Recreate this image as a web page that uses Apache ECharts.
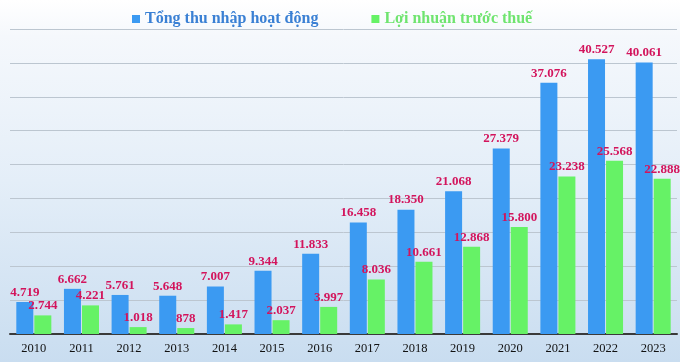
<!DOCTYPE html>
<html><head><meta charset="utf-8">
<script src="https://cdn.jsdelivr.net/npm/echarts@6/dist/echarts.min.js"></script>
<style>
html,body{margin:0;padding:0;}
#c{width:680px;height:362px;background:linear-gradient(to bottom,#ffffff 0%,#f5f8fc 10%,#e4eef8 50%,#c9ddf0 100%);}
</style></head>
<body><div id="c"></div>
<script>
const categories = ['2010','2011','2012','2013','2014','2015','2016','2017','2018','2019','2020','2021','2022','2023'];
const totalIncome = [4719, 6662, 5761, 5648, 7007, 9344, 11833, 16458, 18350, 21068, 27379, 37076, 40527, 40061];
const profitBeforeTax = [2744, 4221, 1018, 878, 1417, 2037, 3997, 8036, 10661, 12868, 15800, 23238, 25568, 22888];
const seriesNames = ['Tổng thu nhập hoạt động', 'Lợi nhuận trước thuế'];

function fmt(v){ return String(v).replace(/\B(?=(\d{3})+(?!\d))/g, '.'); }
const labelCfg = {
  show: true, position: 'top', distance: 3,
  color: '#d3145c', fontFamily: 'Liberation Serif', fontWeight: 'bold', fontSize: 13,
  formatter: p => fmt(p.value)
};
const chart = echarts.init(document.getElementById('c'));
chart.setOption({
  animation: false,
  legend: {
    top: 6, left: 127, itemWidth: 8, itemHeight: 8, itemGap: 53, icon: 'rect',
    textStyle: { fontFamily: 'Liberation Serif', fontWeight: 'bold', fontSize: 16 },
    data: [
      { name: seriesNames[0], textStyle: { color: '#3a80d4' } },
      { name: seriesNames[1], textStyle: { color: '#6fe46f' } }
    ]
  },
  grid: { left: 10, right: 3, top: 29, bottom: 28 },
  xAxis: {
    type: 'category', data: categories,
    axisLine: { lineStyle: { color: '#3a3a3a', width: 2 } },
    axisTick: { show: false },
    axisLabel: { color: '#111', fontFamily: 'Liberation Serif', fontSize: 12.5, margin: 8 }
  },
  yAxis: {
    type: 'value', min: 0, max: 45000, interval: 5000,
    axisLabel: { show: false },
    splitLine: { lineStyle: { color: '#bcc6d0', width: 1 } }
  },
  series: [
    { name: seriesNames[0], type: 'bar', data: totalIncome, barWidth: 17, barGap: '6%',
      itemStyle: { color: '#3b9af2' }, label: labelCfg },
    { name: seriesNames[1], type: 'bar', data: profitBeforeTax, barWidth: 17,
      itemStyle: { color: '#66f266' }, label: labelCfg }
  ]
});
</script></body></html>
